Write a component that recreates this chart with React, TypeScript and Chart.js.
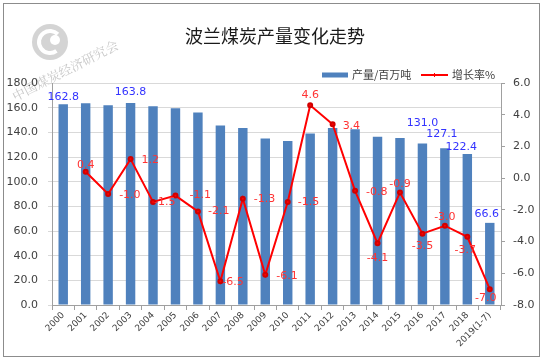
import React, { useEffect, useRef } from "react";
import { Chart, registerables } from "chart.js";

Chart.register(...registerables);

const TITLE = "波兰煤炭产量变化走势";
const WATERMARK = "中国煤炭经济研究会";
const BAR_NAME = "产量/百万吨";
const LINE_NAME = "增长率%";

const categories = [
  "2000", "2001", "2002", "2003", "2004", "2005", "2006", "2007", "2008", "2009",
  "2010", "2011", "2012", "2013", "2014", "2015", "2016", "2017", "2018", "2019(1-7)",
];

const production = [
  162.8, 163.5, 161.9, 163.8, 161.2, 159.5, 156.0, 145.6, 143.6, 134.9,
  132.9, 139.0, 143.6, 142.4, 136.5, 135.4, 131.0, 127.1, 122.4, 66.6,
];

const growth = [
  null, 0.4, -1.0, 1.2, -1.5, -1.1, -2.1, -6.5, -1.3, -6.1,
  -1.5, 4.6, 3.4, -0.8, -4.1, -0.9, -3.5, -3.0, -3.7, -7.0,
];

const leftTicks = { min: 0, max: 180, step: 20 };
const rightTicks = { min: -8, max: 6, step: 2 };

// bar labels shown: index, dx, dy (from bar top)
const barLabelIdx = [0, 3, 16, 17, 18, 19];
const barLabelOffset = [[0, -7], [0, -11], [0, -20], [-3, -14], [-6, -7], [-3, -9]];

// line label placement: [dx, dy, align]
const lineLabelPos: [number, number, string][] = [
  [0, 0, "center"], [0, -7, "center"], [11, 1, "left"], [11, 1, "left"], [1, 0, "left"],
  [14, 0, "left"], [10, 0, "left"], [2, 1, "left"], [11, 0, "left"], [11, 1, "left"],
  [10, 0, "left"], [0, -10, "center"], [10, 2, "left"], [11, 1, "left"], [0, 15, "center"],
  [0, -8, "center"], [0, 12, "center"], [0, -9, "center"], [-2, 13, "center"], [-4, 9, "center"],
];

const BAR_COLOR = "#4f81bd";
const LINE_COLOR = "#ff0000";
const FONT = "'DejaVu Sans', sans-serif";
const CJK = "'Noto Sans CJK SC', sans-serif";

const decorPlugin = {
  id: "decor",
  beforeDraw(chart: any) {
    const ctx = chart.ctx;
    ctx.save();
    ctx.fillStyle = "#ffffff";
    ctx.fillRect(0, 0, chart.width, chart.height);
    // watermark logo
    ctx.fillStyle = "#d4d4d4";
    ctx.beginPath();
    ctx.arc(50, 42, 18, 0, Math.PI * 2);
    ctx.fill();
    ctx.strokeStyle = "#ffffff";
    ctx.lineWidth = 4;
    ctx.beginPath();
    ctx.arc(50, 42, 11, Math.PI * 0.3, Math.PI * 1.75);
    ctx.stroke();
    ctx.fillStyle = "#ffffff";
    ctx.beginPath();
    ctx.arc(55, 40, 5, 0, Math.PI * 2);
    ctx.fill();
    // watermark text
    ctx.translate(13, 97);
    ctx.rotate(-27 * Math.PI / 180);
    ctx.fillStyle = "#c8c8c8";
    ctx.font = "13px 'Noto Serif CJK SC', " + CJK;
    ctx.textBaseline = "middle";
    ctx.fillText(WATERMARK, 0, 0);
    ctx.restore();
  },
  afterDraw(chart: any) {
    const ctx = chart.ctx;
    ctx.save();
    // border
    ctx.strokeStyle = "#8c8c8c";
    ctx.lineWidth = 1;
    ctx.strokeRect(3.5, 3.5, 536, 353);
    // title
    ctx.fillStyle = "#1a1a1a";
    ctx.font = "18px " + CJK;
    ctx.textAlign = "center";
    ctx.textBaseline = "middle";
    ctx.fillText(TITLE, 275, 36);
    // legend
    ctx.textAlign = "left";
    ctx.font = "11px " + CJK;
    ctx.fillStyle = BAR_COLOR;
    ctx.fillRect(322, 72.5, 26, 5);
    ctx.fillStyle = "#404040";
    ctx.fillText(BAR_NAME, 352, 75);
    ctx.strokeStyle = LINE_COLOR;
    ctx.lineWidth = 2;
    ctx.beginPath();
    ctx.moveTo(421, 75);
    ctx.lineTo(448, 75);
    ctx.stroke();
    ctx.lineWidth = 1;
    ctx.beginPath();
    ctx.moveTo(434.5, 73);
    ctx.lineTo(434.5, 77);
    ctx.stroke();
    ctx.fillStyle = "#404040";
    ctx.fillText(LINE_NAME, 452, 75);
    ctx.restore();
  },
  afterDatasetsDraw(chart: any) {
    const ctx = chart.ctx;
    ctx.save();
    ctx.font = "11px " + FONT;
    ctx.textBaseline = "middle";
    // bar labels
    const barMeta = chart.getDatasetMeta(0);
    ctx.fillStyle = "#3333ff";
    ctx.textAlign = "center";
    barLabelIdx.forEach((i, k) => {
      const el = barMeta.data[i];
      const [dx, dy] = barLabelOffset[k];
      ctx.fillText(production[i].toFixed(1), el.x + dx, el.y + dy);
    });
    // line labels
    const lineMeta = chart.getDatasetMeta(1);
    ctx.fillStyle = "#ff3333";
    growth.forEach((v, i) => {
      if (v === null) return;
      const el = lineMeta.data[i];
      const [dx, dy, align] = lineLabelPos[i];
      ctx.textAlign = align;
      ctx.fillText(v.toFixed(1), el.x + dx, el.y + dy);
    });
    ctx.restore();
  },
};

export default function App() {
  const ref = useRef<HTMLCanvasElement | null>(null);
  useEffect(() => {
    document.body.style.margin = "0";
    const chart = new Chart(ref.current as HTMLCanvasElement, {
      type: "bar",
      data: {
        labels: categories,
        datasets: [
          {
            type: "bar",
            label: BAR_NAME,
            data: production,
            backgroundColor: BAR_COLOR,
            yAxisID: "y",
            barPercentage: 0.42,
            categoryPercentage: 1,
            order: 1,
          },
          {
            type: "line",
            label: LINE_NAME,
            data: growth,
            borderColor: LINE_COLOR,
            borderWidth: 2,
            backgroundColor: LINE_COLOR,
            pointRadius: 2,
            pointBorderColor: "#d00000",
            pointBackgroundColor: LINE_COLOR,
            tension: 0,
            yAxisID: "y1",
            order: 0,
          } as any,
        ],
      },
      options: {
        responsive: false,
        animation: false,
        layout: { padding: { top: 83, left: 0, right: 0, bottom: 0 } },
        plugins: {
          legend: { display: false },
          title: { display: false },
          tooltip: { enabled: false },
        },
        scales: {
          x: {
            offset: true,
            grid: { offset: true, drawOnChartArea: false, drawTicks: true, tickLength: 5, color: "#a0a0a0" },
            border: { color: "#a0a0a0" },
            ticks: {
              autoSkip: false,
              minRotation: 45,
              maxRotation: 45,
              padding: 0,
              color: "#404040",
              font: { family: FONT, size: 9 },
            },
            afterFit: (s: any) => { s.height = 56; },
          },
          y: {
            position: "left",
            min: leftTicks.min,
            max: leftTicks.max,
            ticks: {
              stepSize: leftTicks.step,
              padding: 10,
              color: "#404040",
              font: { family: FONT, size: 11 },
              callback: (v: any) => Number(v).toFixed(1),
            },
            grid: { color: "#d9d9d9", tickLength: 4 },
            border: { color: "#a0a0a0" },
            afterFit: (s: any) => { s.width = 52; },
          },
          y1: {
            position: "right",
            min: rightTicks.min,
            max: rightTicks.max,
            ticks: {
              stepSize: rightTicks.step,
              padding: 8,
              color: "#404040",
              font: { family: FONT, size: 11 },
              callback: (v: any) => Number(v).toFixed(1),
            },
            grid: { drawOnChartArea: false, tickLength: 4, color: "#a0a0a0" },
            border: { color: "#a0a0a0" },
            afterFit: (s: any) => { s.width = 44; },
          },
        },
      },
      plugins: [decorPlugin],
    });
    return () => chart.destroy();
  }, []);
  return (
    <div style={{ position: "absolute", left: 0, top: 0, width: 545, height: 361 }}>
      <canvas ref={ref} width={545} height={361} />
    </div>
  );
}
